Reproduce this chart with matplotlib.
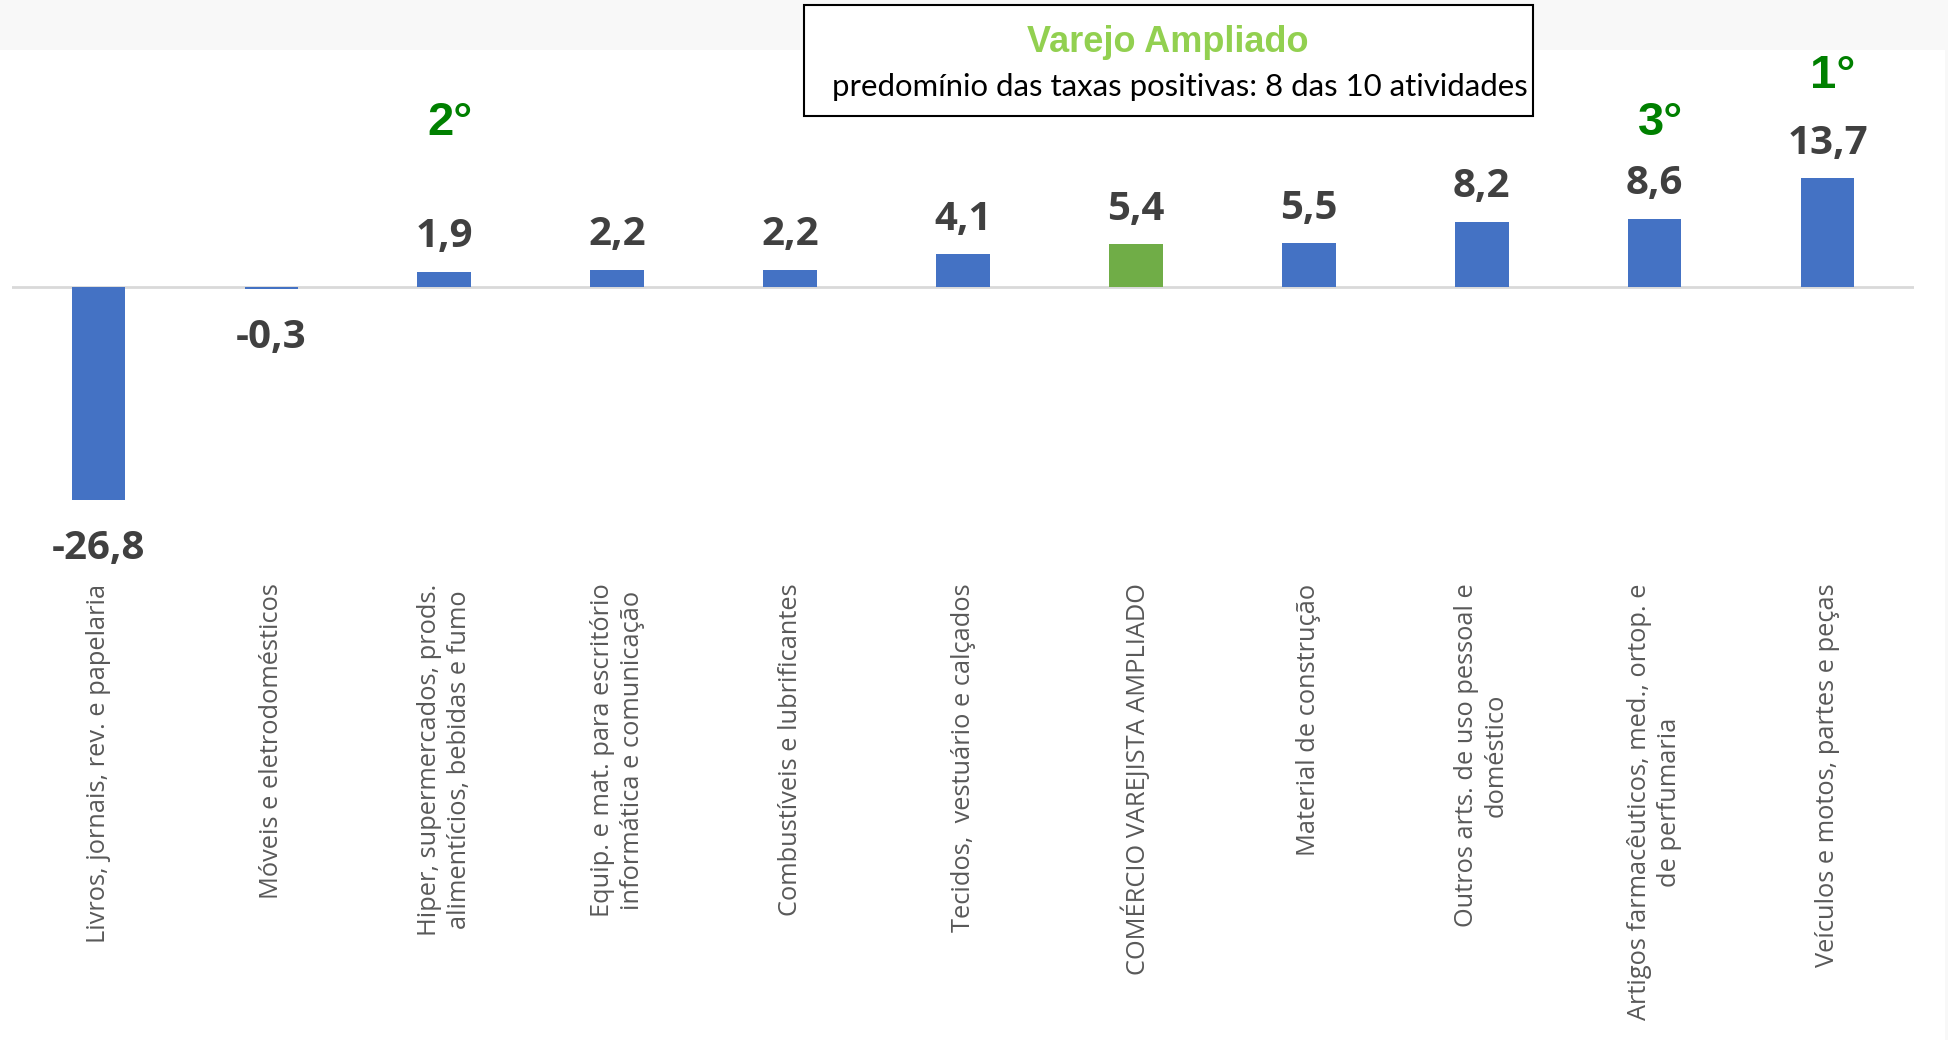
import matplotlib.pyplot as plt
import matplotlib.patches as mpatches
import numpy as np

plt.rcParams['font.family'] = ['Open Sans', 'DejaVu Sans']

categorias = [
    'Livros, jornais, rev. e papelaria',
    'Móveis e eletrodomésticos',
    'Hiper, supermercados, prods.\nalimentícios, bebidas e fumo',
    'Equip. e mat. para escritório\ninformática e comunicação',
    'Combustíveis e lubrificantes',
    'Tecidos,  vestuário e calçados',
    'COMÉRCIO VAREJISTA AMPLIADO',
    'Material de construção',
    'Outros arts. de uso pessoal e\ndoméstico',
    'Artigos farmacêuticos, med., ortop. e\nde perfumaria',
    'Veículos e motos, partes e peças',
]
taxas = [-26.8, -0.3, 1.9, 2.2, 2.2, 4.1, 5.4, 5.5, 8.2, 8.6, 13.7]
total = 'COMÉRCIO VAREJISTA AMPLIADO'

# ranking das atividades (indice da categoria, texto)
ranking = [(10, '1°'), (2, '2°'), (9, '3°')]

titulo = 'Varejo Ampliado'
subtitulo = 'predomínio das taxas positivas: 8 das 10 atividades'

W, H = 1949, 1040
fig = plt.figure(figsize=(W / 100, H / 100), dpi=100)
fig.patch.set_facecolor('white')

# faixa cinza no topo e na borda direita
fig.add_artist(mpatches.Rectangle((0, 1 - 50 / H), 1, 50 / H, transform=fig.transFigure,
                                  facecolor='#f8f8f8', edgecolor='none', zorder=0))
fig.add_artist(mpatches.Rectangle((1 - 4 / W, 0), 4 / W, 1, transform=fig.transFigure,
                                  facecolor='#f8f8f8', edgecolor='none', zorder=0))

ax = fig.add_axes([12 / W, (H - 560) / H, 1902 / W, 510 / H])
ax.set_facecolor('none')

x = np.arange(len(categorias))
cores = ['#70AD47' if c == total else '#4472C4' for c in categorias]
ax.bar(x, taxas, width=0.31, color=cores, zorder=3)
ax.axhline(0, color='#D9D9D9', lw=2, zorder=2)

ax.set_xlim(-0.5, len(categorias) - 0.5)
ax.set_ylim(-34.34, 29.81)

for i, v in enumerate(taxas):
    txt = f'{v:.1f}'.replace('.', ',')
    off = 17.6 if v >= 0 else -42.5
    ax.annotate(txt, (i, v), xytext=(0, off), textcoords='offset points',
                ha='center', va='baseline', fontsize=29, fontweight='bold',
                color='#404040')

for i, r in ranking:
    ypos = 25.0 if r == '1°' else 19.1
    ax.annotate(r, (i, ypos), xytext=(4, 0), textcoords='offset points',
                ha='center', va='baseline', fontsize=34, fontweight='bold',
                color='#008000', family=['Liberation Sans', 'DejaVu Sans'])

ax.set_xticks(x)
ax.set_xticklabels(categorias, rotation=90, va='top', ha='center',
                   multialignment='center', fontsize=18.3, color='#595959',
                   linespacing=1.25)
ax.tick_params(axis='x', length=0, pad=17)
ax.set_yticks([])
for s in ax.spines.values():
    s.set_visible(False)

# caixa do titulo
fig.add_artist(mpatches.Rectangle((804 / W, 1 - 116 / H), 729 / W, 111 / H,
                                  transform=fig.transFigure, facecolor='white',
                                  edgecolor='black', lw=1.5, zorder=5))
fig.text(1168 / W, 1 - 42 / H, titulo, ha='center', va='center', fontsize=26,
         fontweight='bold', color='#92D050', family=['Liberation Sans', 'DejaVu Sans'],
         zorder=6)
fig.text(1180 / W, 1 - 87 / H, subtitulo, ha='center', va='center', fontsize=22.4,
         color='black', family=['Lato', 'DejaVu Sans'], zorder=6)

plt.savefig('out.png', dpi=100)
